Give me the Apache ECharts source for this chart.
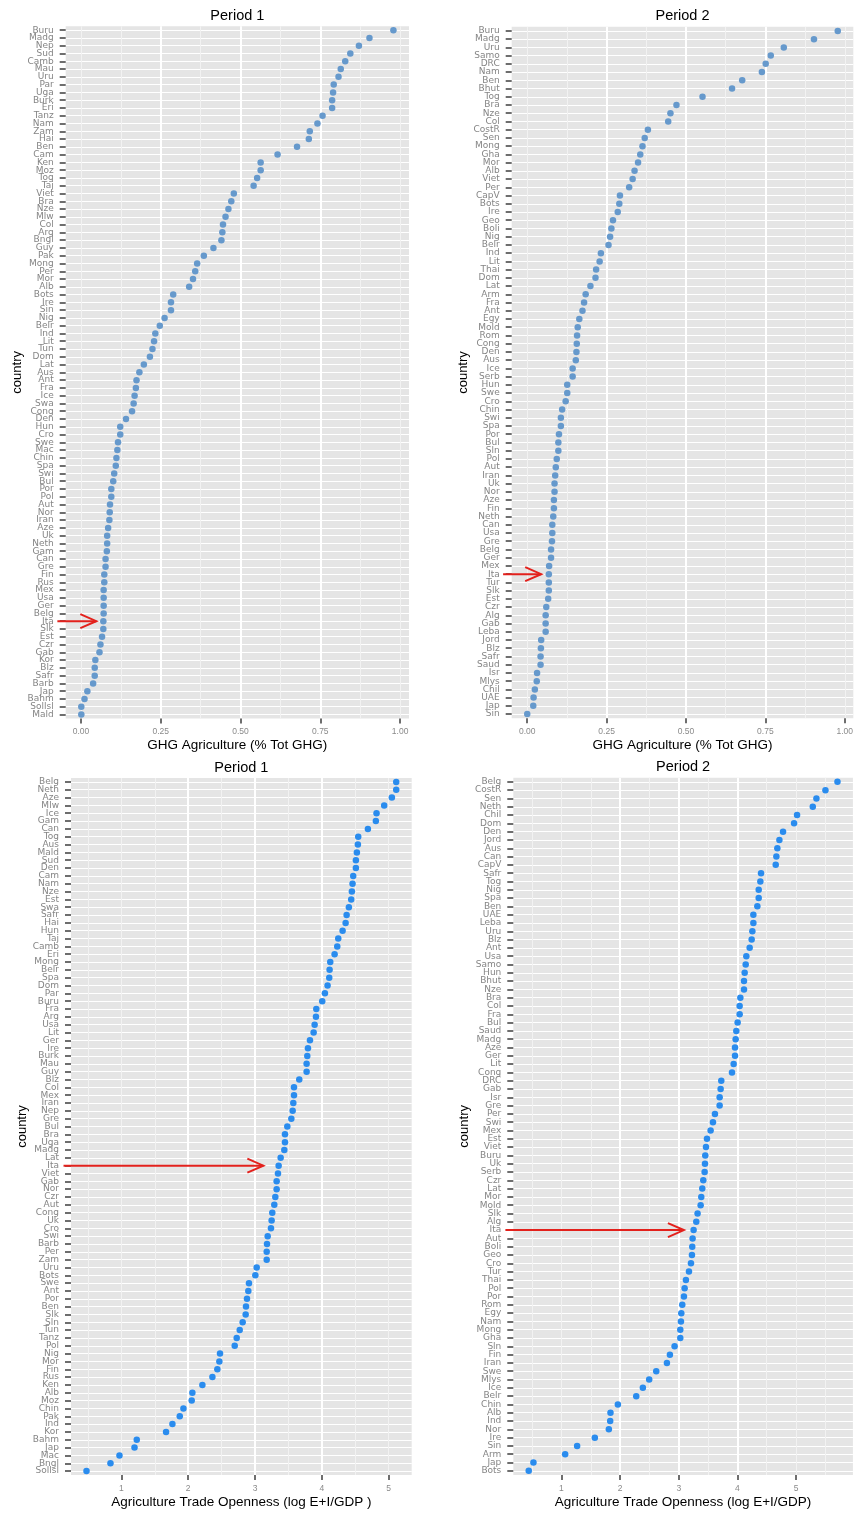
<!DOCTYPE html>
<html>
<head>
<meta charset="utf-8">
<script src="https://cdn.jsdelivr.net/npm/echarts@6/dist/echarts.min.js"></script>
<style>
html,body{margin:0;padding:0;background:#fff;}
#chart{width:854px;height:1513px;}
</style>
</head>
<body>
<div id="chart"></div>
<script>
// ---------- DATA ----------
const ghgCats1 = ['Buru','Madg','Nep','Sud','Camb','Mau','Uru','Par','Uga','Burk',
  'Eri','Tanz','Nam','Zam','Hai','Ben','Cam','Ken','Moz','Tog',
  'Taj','Viet','Bra','Nze','Mlw','Col','Arg','Bngl','Guy','Pak',
  'Mong','Per','Mor','Alb','Bots','Ire','Sin','Nig','Belr','Ind',
  'Lit','Tun','Dom','Lat','Aus','Ant','Fra','Ice','Swa','Cong',
  'Den','Hun','Cro','Swe','Mac','Chin','Spa','Swi','Bul','Por',
  'Pol','Aut','Nor','Iran','Aze','Uk','Neth','Gam','Can','Gre',
  'Fin','Rus','Mex','Usa','Ger','Belg','Ita','Slk','Est','Czr',
  'Gab','Kor','Blz','Safr','Barb','Jap','Bahm','Sollsl','Mald'];
const ghgVals1 = [0.979,0.904,0.871,0.844,0.828,0.814,0.807,0.792,0.790,0.787,
  0.787,0.757,0.741,0.717,0.714,0.677,0.616,0.563,0.563,0.552,
  0.541,0.479,0.471,0.462,0.453,0.445,0.443,0.440,0.415,0.385,
  0.364,0.358,0.351,0.339,0.289,0.282,0.282,0.262,0.247,0.233,
  0.229,0.224,0.216,0.197,0.183,0.174,0.172,0.168,0.165,0.160,
  0.141,0.123,0.123,0.116,0.114,0.111,0.109,0.104,0.101,0.095,
  0.095,0.091,0.090,0.089,0.085,0.082,0.082,0.081,0.077,0.077,
  0.073,0.073,0.071,0.071,0.071,0.071,0.070,0.070,0.066,0.061,
  0.058,0.045,0.043,0.043,0.038,0.020,0.011,0.001,0.001];

const ghgCats2 = ['Buru','Madg','Uru','Samo','DRC','Nam','Ben','Bhut','Tog','Bra',
  'Nze','Col','CostR','Sen','Mong','Gha','Mor','Alb','Viet','Per',
  'CapV','Bots','Ire','Geo','Boli','Nig','Belr','Ind','Lit','Thai',
  'Dom','Lat','Arm','Fra','Ant','Egy','Mold','Rom','Cong','Den',
  'Aus','Ice','Serb','Hun','Swe','Cro','Chin','Swi','Spa','Por',
  'Bul','Sln','Pol','Aut','Iran','Uk','Nor','Aze','Fin','Neth',
  'Can','Usa','Gre','Belg','Ger','Mex','Ita','Tur','Slk','Est',
  'Czr','Alg','Gab','Leba','Jord','Blz','Safr','Saud','Isr','Mlys',
  'Chil','UAE','Jap','Sin'];
const ghgVals2 = [0.978,0.903,0.808,0.767,0.751,0.739,0.677,0.645,0.552,0.470,
  0.451,0.444,0.380,0.370,0.363,0.356,0.349,0.338,0.332,0.321,
  0.292,0.290,0.285,0.270,0.265,0.261,0.256,0.232,0.228,0.217,
  0.215,0.199,0.184,0.179,0.174,0.164,0.159,0.157,0.156,0.155,
  0.153,0.143,0.143,0.126,0.126,0.121,0.110,0.106,0.106,0.100,
  0.098,0.098,0.093,0.090,0.088,0.086,0.086,0.084,0.084,0.082,
  0.079,0.079,0.078,0.075,0.075,0.069,0.068,0.068,0.068,0.066,
  0.060,0.058,0.058,0.058,0.044,0.043,0.042,0.042,0.031,0.030,
  0.024,0.020,0.019,0.000];

const openCats1 = ['Belg','Neth','Aze','Mlw','Ice','Gam','Can','Tog','Aus','Mald',
  'Sud','Den','Cam','Nam','Nze','Est','Swa','Safr','Hai','Hun',
  'Taj','Camb','Eri','Mong','Belr','Spa','Dom','Par','Buru','Fra',
  'Arg','Usa','Lit','Ger','Ire','Burk','Mau','Guy','Blz','Col',
  'Mex','Iran','Nep','Gre','Bul','Bra','Uga','Madg','Lat','Ita',
  'Viet','Gab','Nor','Czr','Aut','Cong','Uk','Cro','Swi','Barb',
  'Per','Zam','Uru','Bots','Swe','Ant','Por','Ben','Slk','Sln',
  'Tun','Tanz','Pol','Nig','Mor','Fin','Rus','Ken','Alb','Moz',
  'Chin','Pak','Ind','Kor','Bahm','Jap','Mac','Bngl','Sollsl'];
const openVals1 = [5.115,5.115,5.050,4.935,4.820,4.810,4.691,4.546,4.541,4.526,
  4.511,4.511,4.471,4.461,4.451,4.441,4.406,4.372,4.357,4.312,
  4.247,4.232,4.192,4.127,4.117,4.112,4.087,4.047,4.007,3.918,
  3.913,3.893,3.878,3.823,3.793,3.783,3.773,3.773,3.663,3.584,
  3.584,3.574,3.564,3.544,3.484,3.449,3.449,3.439,3.384,3.354,
  3.344,3.324,3.324,3.304,3.289,3.259,3.249,3.239,3.190,3.180,
  3.175,3.175,3.025,3.005,2.910,2.900,2.880,2.865,2.860,2.815,
  2.771,2.726,2.696,2.476,2.466,2.436,2.362,2.212,2.062,2.052,
  1.928,1.873,1.763,1.668,1.229,1.195,0.970,0.835,0.476];

const openCats2 = ['Belg','CostR','Sen','Neth','Chil','Dom','Den','Jord','Aus','Can',
  'CapV','Safr','Tog','Nig','Spa','Ben','UAE','Leba','Uru','Blz',
  'Ant','Usa','Samo','Hun','Bhut','Nze','Bra','Col','Fra','Bul',
  'Saud','Madg','Aze','Ger','Lit','Cong','DRC','Gab','Isr','Gre',
  'Per','Swi','Mex','Est','Viet','Buru','Uk','Serb','Czr','Lat',
  'Mor','Mold','Slk','Alg','Ita','Aut','Boli','Geo','Cro','Tur',
  'Thai','Pol','Por','Rom','Egy','Nam','Mong','Gha','Sln','Fin',
  'Iran','Swe','Mlys','Ice','Belr','Chin','Alb','Ind','Nor','Ire',
  'Sin','Arm','Jap','Bots'];
const openVals2 = [5.706,5.501,5.347,5.285,5.017,4.966,4.778,4.716,4.681,4.664,
  4.653,4.403,4.391,4.363,4.363,4.340,4.272,4.272,4.255,4.243,
  4.209,4.152,4.141,4.124,4.112,4.112,4.050,4.038,4.038,4.004,
  3.981,3.970,3.959,3.959,3.936,3.908,3.725,3.714,3.697,3.697,
  3.617,3.583,3.543,3.481,3.464,3.452,3.447,3.441,3.418,3.401,
  3.384,3.373,3.321,3.299,3.253,3.236,3.230,3.225,3.208,3.174,
  3.122,3.100,3.088,3.060,3.043,3.037,3.026,3.026,2.929,2.849,
  2.798,2.616,2.496,2.388,2.275,1.962,1.836,1.831,1.808,1.569,
  1.267,1.063,0.522,0.442];

const ghgTicks = [0, 0.25, 0.5, 0.75, 1];
const ghgTickLabels = ['0.00','0.25','0.50','0.75','1.00'];
const openTicks = [1, 2, 3, 4, 5];
const openTickLabels = ['1','2','3','4','5'];

const panelTitles = ['Period 1', 'Period 2', 'Period 1', 'Period 2'];
const xTitles = ['GHG Agriculture (% Tot GHG)', 'GHG Agriculture (% Tot GHG)',
  'Agriculture Trade Openness (log E+I/GDP )', 'Agriculture Trade Openness (log E+I/GDP)'];
const yTitle = 'country';

// highlighted country and arrow extent (in data units of each panel)
const arrowCountry = 'Ita';
const arrowFrom = [-0.074, -0.076, 0.132, 0.044];
const arrowTo = [0.048, 0.044, 3.125, 3.088];

// ---------- CHART ----------
const FONT = '"Liberation Sans", Arial, sans-serif';
const panels = [
  {cats: ghgCats1, vals: ghgVals1, ticks: ghgTicks, labels: ghgTickLabels, step: 0.25, color: '#6699CC',
   rect: {left: 65.7, top: 26.3, width: 343.3, height: 692.1}},
  {cats: ghgCats2, vals: ghgVals2, ticks: ghgTicks, labels: ghgTickLabels, step: 0.25, color: '#6699CC',
   rect: {left: 511.7, top: 26.8, width: 341.6, height: 691.4}},
  {cats: openCats1, vals: openVals1, ticks: openTicks, labels: openTickLabels, step: 1, color: '#2A8CEE',
   rect: {left: 71, top: 778, width: 340.7, height: 697}},
  {cats: openCats2, vals: openVals2, ticks: openTicks, labels: openTickLabels, step: 1, color: '#2A8CEE',
   rect: {left: 513.3, top: 777.7, width: 339.6, height: 697.3}}
];

const option = {
  animation: false,
  backgroundColor: '#ffffff',
  grid: [], xAxis: [], yAxis: [], series: [], graphic: []
};

panels.forEach((p, i) => {
  const vmin = Math.min(...p.vals), vmax = Math.max(...p.vals);
  const pad = (vmax - vmin) * 0.05;
  const xmin = vmin - pad, xmax = vmax + pad;
  option.grid.push(Object.assign({
    show: true, backgroundColor: '#E5E5E5', borderWidth: 0,
    containLabel: false, outerBoundsMode: 'none'
  }, p.rect));
  // minor grid axis
  option.xAxis.push({
    gridIndex: i, type: 'value', min: xmin, max: xmax, z: 0,
    minInterval: p.step / 2, maxInterval: p.step / 2,
    axisLine: {show: false, onZero: false}, axisTick: {show: false}, axisLabel: {show: false},
    splitLine: {show: true, showMinLine: false, showMaxLine: false,
      lineStyle: {color: '#F2F2F2', width: 1}}
  });
  // main axis
  option.xAxis.push({
    gridIndex: i, type: 'value', min: xmin, max: xmax, position: 'bottom', z: 1,
    minInterval: p.step, maxInterval: p.step,
    axisLine: {show: false, onZero: false},
    axisTick: {show: true, customValues: p.ticks, length: 5, lineStyle: {color: '#6e6e6e', width: 2}},
    axisLabel: {customValues: p.ticks, margin: 9, fontSize: 8.5, fontFamily: FONT, color: '#8a8a8a',
      formatter: v => {
        const k = p.ticks.findIndex(t => Math.abs(t - v) < 1e-9);
        return k >= 0 ? p.labels[k] : '';
      }},
    splitLine: {show: true, showMinLine: false, showMaxLine: false,
      lineStyle: {color: '#ffffff', width: 2}},
    name: xTitles[i], nameLocation: 'middle', nameGap: 20,
    nameTextStyle: {fontSize: 13.5, fontFamily: FONT, color: '#000'}
  });
  option.yAxis.push({
    gridIndex: i, type: 'category', data: p.cats, inverse: true, boundaryGap: true,
    axisLine: {show: false, onZero: false},
    axisTick: {show: true, alignWithLabel: true, interval: 0, length: 6,
      lineStyle: {color: '#6e6e6e', width: 2}},
    axisLabel: {interval: 0, margin: 12, fontSize: 9, fontFamily: '"DejaVu Sans", sans-serif', color: '#858585'},
    splitLine: {show: true, interval: 0, alignWithLabel: true,
      lineStyle: {color: '#ffffff', width: 1.2}},
    name: yTitle, nameLocation: 'middle', nameGap: 42,
    nameTextStyle: {fontSize: 13, fontFamily: FONT, color: '#000'}
  });
  option.series.push({
    type: 'scatter', xAxisIndex: 2 * i + 1, yAxisIndex: i,
    data: p.vals.map((v, k) => [v, k]),
    symbol: 'circle', symbolSize: 6.5, silent: true, clip: false,
    itemStyle: {color: p.color, opacity: 1}
  });
  option.series.push({
    type: 'custom', xAxisIndex: 2 * i + 1, yAxisIndex: i, z: 5, silent: true, clip: false,
    data: [[arrowFrom[i], arrowTo[i], p.cats.indexOf(arrowCountry)]],
    encode: {x: [0, 1], y: 2},
    renderItem: (params, api) => {
      const yv = api.value(2);
      const a = api.coord([api.value(0), yv]);
      const b = api.coord([api.value(1), yv]);
      const L = 16, H = 7;
      return {type: 'group', children: [
        {type: 'line', shape: {x1: a[0], y1: a[1], x2: b[0], y2: b[1]},
         style: {stroke: '#E3211C', lineWidth: 2}},
        {type: 'polyline', shape: {points: [[b[0] - L, b[1] - H], [b[0], b[1]], [b[0] - L, b[1] + H]]},
         style: {stroke: '#E3211C', lineWidth: 2, fill: null}}
      ]};
    }
  });
  option.graphic.push({
    type: 'text', x: p.rect.left + p.rect.width / 2, y: p.rect.top - 10.5, silent: true,
    style: {text: panelTitles[i], align: 'center', verticalAlign: 'middle',
      font: '14.5px ' + FONT, fill: '#000'}
  });
});

const chart = echarts.init(document.getElementById('chart'), null, {renderer: 'canvas'});
chart.setOption(option);
</script>
</body>
</html>
